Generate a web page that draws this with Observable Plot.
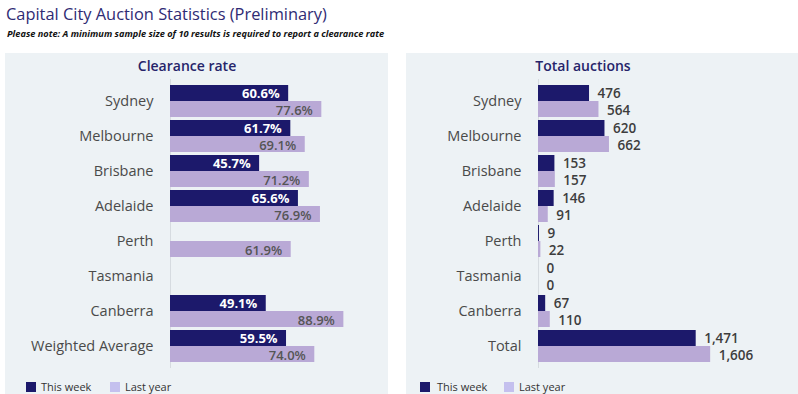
<!DOCTYPE html>
<html><head><meta charset="utf-8">
<script src="https://cdn.jsdelivr.net/npm/d3@7"></script>
<script src="https://cdn.jsdelivr.net/npm/@observablehq/plot@0.6"></script>
<style>
body{margin:0;background:#fff;font-family:"Open Sans",sans-serif;}
#page{position:relative;width:798px;height:394px;overflow:hidden;}
.title{position:absolute;left:6px;top:3px;font-size:16.4px;color:#2f2b74;white-space:nowrap;line-height:22px;}
.sub{position:absolute;left:7px;top:27px;font-size:9.2px;font-style:italic;font-weight:700;color:#111;white-space:nowrap;line-height:14px;}
.panel{position:absolute;top:53px;height:341px;background:#edf2f5;}
.ptitle{position:absolute;top:3px;font-size:14px;font-weight:600;color:#26246a;white-space:nowrap;transform:translateX(-50%);line-height:20px;}
.chart{position:absolute;left:0;top:22px;}
.sw{position:absolute;top:329px;width:10px;height:10px;}
.lt{position:absolute;top:326px;font-size:11px;color:#333;line-height:16px;white-space:nowrap;}
</style>
</head><body>
<div id="page">
  <div class="title">Capital City Auction Statistics (Preliminary)</div>
  <div class="sub">Please note: A minimum sample size of 10 results is required to report a clearance rate</div>
  <div class="panel" id="left" style="left:5px;width:383px;">
    <div class="ptitle" style="left:182px;">Clearance rate</div>
    <div class="chart" id="leftChart"></div>
    <div class="sw" style="left:21px;background:#1c196b;"></div><div class="lt" style="left:36px;">This week</div>
    <div class="sw" style="left:105px;background:#c4c0ee;"></div><div class="lt" style="left:120px;">Last year</div>
  </div>
  <div class="panel" id="right" style="left:406px;width:392px;">
    <div class="ptitle" style="left:177px;">Total auctions</div>
    <div class="chart" id="rightChart"></div>
    <div class="sw" style="left:14px;background:#1c196b;"></div><div class="lt" style="left:31px;">This week</div>
    <div class="sw" style="left:98px;background:#c4c0ee;"></div><div class="lt" style="left:113px;">Last year</div>
  </div>
</div>
<script>
const clearanceCategories = ["Sydney","Melbourne","Brisbane","Adelaide","Perth","Tasmania","Canberra","Weighted Average"];
const clearanceThisWeek = [60.6, 61.7, 45.7, 65.6, null, null, 49.1, 59.5];
const clearanceLastYear = [77.6, 69.1, 71.2, 76.9, 61.9, null, 88.9, 74.0];

const auctionCategories = ["Sydney","Melbourne","Brisbane","Adelaide","Perth","Tasmania","Canberra","Total"];
const auctionsThisWeek = [476, 620, 153, 146, 9, 0, 67, 1471];
const auctionsLastYear = [564, 662, 157, 91, 22, 0, 110, 1606];

const DARK = "#1c196b", LIGHT = "#b9a9d6";
const FONT = '"Open Sans", sans-serif';

function rows(cats, tw, ly) {
  return cats.map((c, i) => ({city: c, thisWeek: tw[i], lastYear: ly[i]}));
}

function commonY(cats) {
  return {domain: cats, padding: 0.1, tickSize: 0, tickPadding: 17, label: null};
}

const axisStyle = {background: "transparent", fontFamily: FONT, fontSize: "14.5px", color: "#4a4a4a", overflow: "visible"};

// Left: clearance rate
{
  const data = rows(clearanceCategories, clearanceThisWeek, clearanceLastYear);
  const tw = data.filter(d => d.thisWeek != null);
  const ly = data.filter(d => d.lastYear != null);
  const chart = Plot.plot({
    width: 383, height: 296,
    marginLeft: 165, marginRight: 23, marginTop: 4, marginBottom: 3,
    x: {domain: [0, 100], axis: null},
    y: commonY(clearanceCategories),
    style: axisStyle,
    marks: [
      Plot.ruleX([0], {stroke: "#d6dbe0"}),
      Plot.barX(tw, {x: "thisWeek", y: "city", fill: DARK, insetBottom: 16}),
      Plot.barX(ly, {x: "lastYear", y: "city", fill: LIGHT, insetTop: 16}),
      Plot.text(tw, {x: "thisWeek", y: "city", text: d => d.thisWeek.toFixed(1) + "%", textAnchor: "end", dx: -9, dy: -7.5, fill: "#fff", fontWeight: 700, fontSize: 13}),
      Plot.text(ly, {x: "lastYear", y: "city", text: d => d.lastYear.toFixed(1) + "%", textAnchor: "end", dx: -9, dy: 9, fill: "#555", fontWeight: 600, fontSize: 13})
    ]
  });
  document.getElementById("leftChart").append(chart);
}

// Right: total auctions
{
  const data = rows(auctionCategories, auctionsThisWeek, auctionsLastYear);
  const fmt = d3.format(",");
  const chart = Plot.plot({
    width: 392, height: 296,
    marginLeft: 132, marginRight: 45.6, marginTop: 4, marginBottom: 3,
    x: {domain: [0, 2000], axis: null},
    y: commonY(auctionCategories),
    style: axisStyle,
    marks: [
      Plot.ruleX([0], {stroke: "#d6dbe0"}),
      Plot.barX(data, {x: "thisWeek", y: "city", fill: DARK, insetBottom: 16}),
      Plot.barX(data, {x: "lastYear", y: "city", fill: LIGHT, insetTop: 16}),
      Plot.text(data, {x: "thisWeek", y: "city", text: d => fmt(d.thisWeek), textAnchor: "start", dx: 8, dy: -7.5, fill: "#3d3d3d", fontWeight: 600, fontSize: 13.5}),
      Plot.text(data, {x: "lastYear", y: "city", text: d => fmt(d.lastYear), textAnchor: "start", dx: 8, dy: 9, fill: "#3d3d3d", fontWeight: 600, fontSize: 13.5})
    ]
  });
  document.getElementById("rightChart").append(chart);
}
</script>
</body></html>
